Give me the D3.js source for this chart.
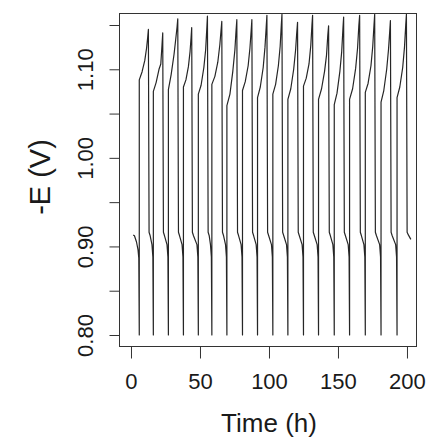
<!DOCTYPE html>
<html><head><meta charset="utf-8">
<script src="https://cdn.jsdelivr.net/npm/d3@7"></script>
<style>body{margin:0;background:#fff}text{font-family:"Liberation Sans",Arial,Helvetica,sans-serif;fill:#1a1a1a}</style>
</head><body>
<svg id="c" width="431" height="437"></svg>
<script>
// Axis ticks
const xTicks = [0, 50, 100, 150, 200];
const yTicks = [0.80, 0.85, 0.90, 0.95, 1.00, 1.05, 1.10, 1.15];
const yTickLabels = ["0.80", "", "0.90", "", "1.00", "", "1.10", ""];
const xTitle = "Time (h)";
const yTitle = "-E (V)";

// Potential curve: [time (h), -E (V)], one line per charge/discharge cycle
const curve = [
  [1.6,0.913],[2.5,0.912],[4.0,0.905],[5.1,0.896],[5.65,0.887],
  [6.0,0.800],[6.0,1.088],[8.0,1.097],[10.0,1.110],[11.3,1.124],[12.1,1.136],[12.6,1.145],[13.1,0.916],[13.9,0.912],[15.2,0.902],[15.85,0.888],
  [16.2,0.800],[16.2,1.075],[18.2,1.085],[20.3,1.100],[21.6,1.106],[22.5,1.128],[23.0,1.141],[23.5,0.916],[24.3,0.912],[26.1,0.902],[26.75,0.888],
  [27.1,0.800],[27.1,1.077],[29.1,1.094],[31.2,1.117],[32.5,1.135],[33.4,1.148],[33.9,1.157],[34.4,0.916],[35.2,0.912],[37.0,0.902],[37.65,0.888],
  [38.0,0.800],[38.0,1.080],[39.8,1.088],[41.6,1.103],[42.8,1.120],[43.5,1.135],[44.0,1.147],[44.5,0.916],[45.3,0.912],[47.8,0.902],[48.45,0.888],
  [48.8,0.800],[48.8,1.072],[50.8,1.082],[52.8,1.102],[54.1,1.122],[54.9,1.145],[55.4,1.160],[55.9,0.916],[56.7,0.912],[57.6,0.902],[58.25,0.888],
  [58.6,0.800],[58.6,1.083],[60.8,1.092],[62.9,1.108],[64.4,1.128],[65.2,1.143],[65.8,1.154],[66.3,0.916],[67.1,0.912],[68.5,0.902],[69.15,0.888],
  [69.5,0.800],[69.5,1.059],[71.7,1.072],[73.8,1.098],[75.3,1.122],[76.1,1.143],[76.7,1.156],[77.2,0.916],[78.0,0.912],[79.8,0.902],[80.45,0.888],
  [80.8,0.800],[80.8,1.076],[82.8,1.086],[84.9,1.104],[86.2,1.124],[87.1,1.144],[87.6,1.156],[88.1,0.916],[88.9,0.912],[90.7,0.902],[91.35,0.888],
  [91.7,0.800],[91.7,1.068],[93.7,1.080],[95.8,1.102],[97.1,1.125],[98.0,1.148],[98.5,1.161],[99.0,0.916],[99.8,0.912],[101.8,0.902],[102.45,0.888],
  [102.8,0.800],[102.8,1.072],[104.8,1.083],[106.8,1.104],[108.1,1.126],[108.9,1.149],[109.4,1.162],[109.9,0.916],[110.7,0.912],[112.7,0.902],[113.35,0.888],
  [113.7,0.800],[113.7,1.066],[115.8,1.078],[117.9,1.100],[119.3,1.122],[120.1,1.141],[120.7,1.153],[121.2,0.916],[122.0,0.912],[124.0,0.902],[124.65,0.888],
  [125.0,0.800],[125.0,1.081],[127.0,1.090],[129.0,1.106],[130.3,1.127],[131.1,1.149],[131.6,1.161],[132.1,0.916],[132.9,0.912],[134.9,0.902],[135.55,0.888],
  [135.9,0.800],[135.9,1.066],[138.1,1.078],[140.3,1.098],[141.7,1.116],[142.6,1.138],[143.2,1.149],[143.7,0.916],[144.5,0.912],[146.3,0.902],[146.95,0.888],
  [147.3,0.800],[147.3,1.060],[149.3,1.073],[151.4,1.098],[152.7,1.120],[153.6,1.146],[154.1,1.159],[154.6,0.916],[155.4,0.912],[157.4,0.902],[158.05,0.888],
  [158.4,0.800],[158.4,1.066],[160.6,1.078],[162.8,1.101],[164.2,1.124],[165.1,1.149],[165.7,1.161],[166.2,0.916],[167.0,0.912],[168.8,0.902],[169.45,0.888],
  [169.8,0.800],[169.8,1.074],[171.8,1.084],[173.9,1.104],[175.2,1.126],[176.1,1.150],[176.6,1.162],[177.1,0.916],[177.9,0.912],[180.2,0.902],[180.85,0.888],
  [181.2,0.800],[181.2,1.063],[183.2,1.076],[185.3,1.100],[186.6,1.122],[187.5,1.143],[188.0,1.155],[188.5,0.916],[189.3,0.912],[191.8,0.902],[192.45,0.888],
  [192.8,0.800],[192.8,1.068],[194.8,1.080],[196.9,1.102],[198.2,1.125],[199.1,1.150],[199.6,1.162],[200.1,0.916],[201.0,0.913],[202.8,0.908]
];

const svg = d3.select("#c");
const box = {left: 119.5, right: 416.5, top: 13.5, bottom: 346.5};
const x = d3.scaleLinear().domain([-8.33, 206.9]).range([box.left, box.right]);
const y = d3.scaleLinear().domain([0.80, 1.15]).range([335, 25]);

// data line
svg.append("path")
  .datum(curve)
  .attr("fill", "none")
  .attr("stroke", "#262626")
  .attr("stroke-width", 1.2)
  .attr("stroke-linejoin", "round")
  .attr("d", d3.line().x(d => x(d[0])).y(d => y(d[1])));

// box
svg.append("rect")
  .attr("x", box.left).attr("y", box.top)
  .attr("width", box.right - box.left).attr("height", box.bottom - box.top)
  .attr("fill", "none").attr("stroke", "#333").attr("stroke-width", 1);

// x axis
const gx = svg.append("g").attr("transform", `translate(0,${box.bottom})`)
  .call(d3.axisBottom(x).tickValues(xTicks).tickSize(12).tickFormat(d3.format("d")));
gx.select(".domain").remove();
gx.selectAll(".tick line").attr("stroke", "#333");
gx.selectAll(".tick text").attr("y", 42).attr("dy", 0)
  .style("font-size", "22px").attr("fill", "#1a1a1a");

// y axis
const gy = svg.append("g").attr("transform", `translate(${box.left},0)`)
  .call(d3.axisLeft(y).tickValues(yTicks).tickSize(10).tickFormat((d, i) => yTickLabels[i]));
gy.select(".domain").remove();
gy.selectAll(".tick line").attr("stroke", "#333");
gy.selectAll(".tick text")
  .attr("transform", "rotate(-90)")
  .attr("x", 0).attr("y", -26.5).attr("dy", 0)
  .attr("text-anchor", "middle")
  .style("font-size", "22px").attr("fill", "#1a1a1a");

// titles
svg.append("text").attr("x", 269).attr("y", 432).attr("text-anchor", "middle")
  .style("font-size", "26px").text(xTitle);
svg.append("text").attr("transform", "translate(50,177) rotate(-90)").attr("text-anchor", "middle")
  .style("font-size", "29px").text(yTitle);
</script>
</body></html>
